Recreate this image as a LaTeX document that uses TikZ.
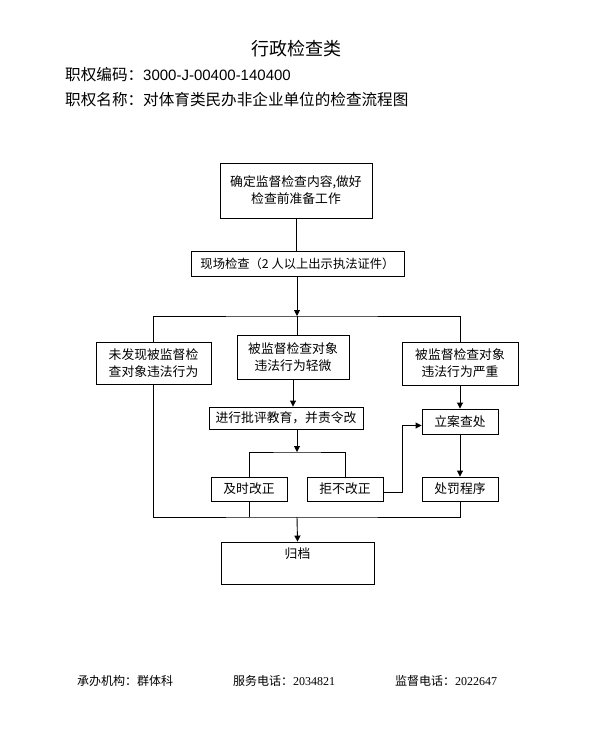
\documentclass[tikz,border=0pt]{standalone}
\usepackage{fontspec}
\setmainfont{Liberation Serif}
\newfontfamily\cjk{Noto Sans CJK SC}
\newfontfamily\arialf{Liberation Sans}
\usetikzlibrary{arrows.meta}
\begin{document}
\begin{tikzpicture}[x=1pt,y=-1pt,
  box/.style={draw, line width=0.9pt, inner sep=0pt, font=\cjk\fontsize{12.8}{17}\selectfont, align=center},
  conn/.style={line width=0.9pt},
  arr/.style={conn, -{Triangle[length=6pt,width=6pt]}},
  hdr/.style={anchor=west, inner sep=0pt, font=\cjk\fontsize{15.6}{18}\selectfont},
  foot/.style={anchor=west, inner sep=0pt, font=\cjk\fontsize{12}{14}\selectfont}]
\useasboundingbox (0,0) rectangle (589,730);
\fill[white] (0,0) rectangle (589,730);

% header
\node[inner sep=0pt, font=\cjk\fontsize{18}{20}\selectfont] (title) at (296,49) {行政检查类};
\node[hdr] (code) at (65,75) {职权编码：{\arialf\fontsize{15}{16}\selectfont 3000-J-00400-140400}};
\node[hdr] (name) at (65,100) {职权名称：对体育类民办非企业单位的检查流程图};

% boxes
\node[box, minimum width=152, minimum height=55] (b1) at (296,190.5) {确定监督检查内容,做好\\检查前准备工作};
\node[box, minimum width=213, minimum height=25, font=\cjk\fontsize{12.3}{14}\selectfont] (b2) at (297.5,263.5) {现场检查（2 人以上出示执法证件）};
\node[box, minimum width=115, minimum height=42] (left) at (153.5,363) {未发现被监督检\\查对象违法行为};
\node[box, minimum width=112, minimum height=44] (mid) at (293,357) {被监督检查对象\\违法行为轻微};
\node[box, minimum width=116, minimum height=43] (right) at (460,363.5) {被监督检查对象\\违法行为严重};
\node[box, minimum width=154, minimum height=22] (edu) at (286,418) {进行批评教育，并责令改};
\node[box, minimum width=76, minimum height=24] (jishi) at (249,489) {及时改正};
\node[box, minimum width=76, minimum height=24] (jubu) at (345,489) {拒不改正};
\node[box, minimum width=76, minimum height=25] (lian) at (460,421.5) {立案查处};
\node[box, minimum width=76, minimum height=24] (chufa) at (460,489) {处罚程序};
\node[box, minimum width=153, minimum height=42,
      label={[anchor=north, inner sep=0pt, yshift=-6pt, font=\cjk\fontsize{12.8}{14}\selectfont]north:归档}] (gd) at (297.5,563) {};

% junctions
\coordinate (j1) at (297,316);
\coordinate (j2) at (297,452);
\coordinate (j3) at (297,517);

% connectors
\draw[conn] (b1.south) -- (b1.south |- b2.north);
\draw[arr] (j1 |- b2.south) -- (j1);
\draw[conn] (j1) -- (j1 |- mid.north);
\draw[conn] (left.north) |- (j1) -| (right.north);
\draw[arr] (mid.south) -- (mid.south |- edu.north);
\draw[arr] (j2 |- edu.south) -- (j2);
\draw[conn] (jishi.north) |- (j2) -| (jubu.north);
\draw[arr] ([yshift=-3pt]jubu.east) -- ++(19,0) |- ([yshift=-4pt]lian.west);
\draw[arr] (right.south) -- (lian.north);
\draw[arr] (lian.south) -- (chufa.north);
\draw[conn] (left.south) |- (j3) -| (chufa.south);
\draw[conn] (jishi.south) -- (jishi.south |- j3);
\draw[arr] (j3) -- (gd.north);

% footer
\node[foot] (f1) at (77,681) {承办机构：群体科};
\node[foot] (f2) at (233,681) {服务电话：{\rmfamily 2034821}};
\node[foot] (f3) at (395,681) {监督电话：{\rmfamily 2022647}};
\end{tikzpicture}
\end{document}
